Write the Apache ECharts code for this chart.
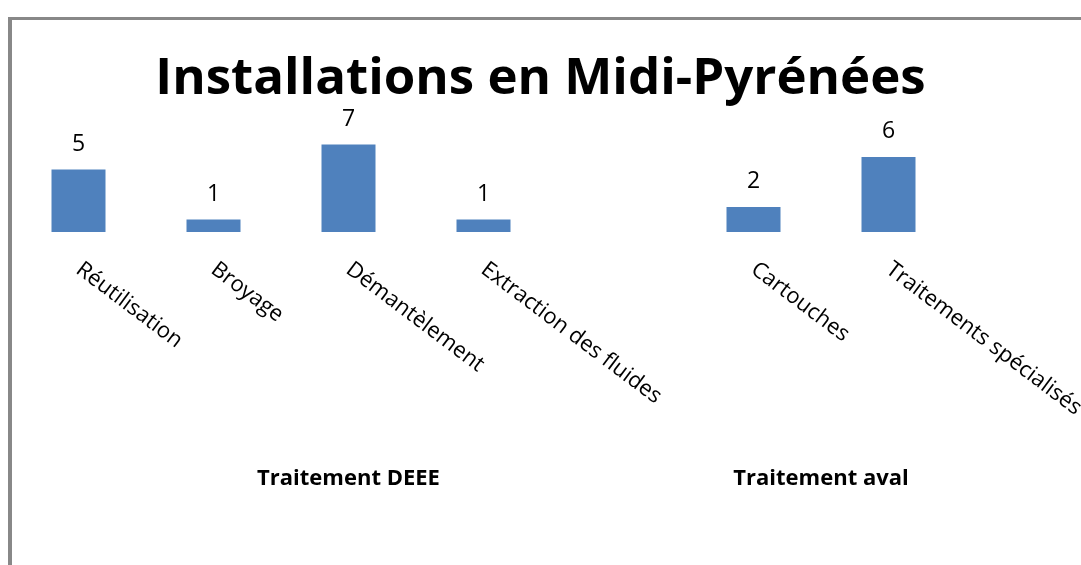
<!DOCTYPE html>
<html>
<head>
<meta charset="utf-8">
<script src="https://cdn.jsdelivr.net/npm/echarts@6/dist/echarts.min.js"></script>
<style>
  html, body { margin: 0; padding: 0; background: #ffffff; }
  #frame { position: absolute; left: 8px; top: 17px; right: -10px; bottom: -10px;
           border-left: 4px solid #888888; border-top: 3px solid #888888; }
  #chart { position: absolute; left: 0; top: 0; width: 1081px; height: 565px; }
</style>
</head>
<body>
<div id="frame"></div>
<div id="chart"></div>
<script>
// Installations counted per treatment step (empty slot separates the two groups)
const categories = ['Réutilisation', 'Broyage', 'Démantèlement', 'Extraction des fluides', '', 'Cartouches', 'Traitements spécialisés'];
const installations = [5, 1, 7, 1, null, 2, 6];
// Group captions and the category index range each one spans
const groupNames = ['Traitement DEEE', 'Traitement aval'];
const groupStart = [0, 5];
const groupEnd = [4, 6];

const chart = echarts.init(document.getElementById('chart'), null, { renderer: 'canvas' });

const option = {
  backgroundColor: 'transparent',
  animation: false,
  title: {
    text: 'Installations en Midi-Pyrénées',
    left: 'center',
    top: 49,
    textStyle: { fontFamily: 'Open Sans', fontWeight: 'bold', fontSize: 51, color: '#000000' }
  },
  grid: { left: 11, right: 125, top: 132, bottom: 333, containLabel: false, outerBoundsMode: 'none' },
  xAxis: {
    type: 'category',
    data: categories,
    axisLine: { show: false },
    axisTick: { show: false },
    splitLine: { show: false },
    axisLabel: {
      interval: 0,
      rotate: -37,
      margin: 35,
      fontFamily: 'Open Sans',
      fontSize: 22,
      color: '#000000'
    }
  },
  yAxis: {
    type: 'value',
    min: 0,
    max: 8,
    show: false,
    splitLine: { show: false }
  },
  series: [{
    type: 'bar',
    data: installations,
    barWidth: '40%',
    itemStyle: { color: '#4F81BD' },
    label: {
      show: true,
      position: 'top',
      distance: 14,
      fontFamily: 'Open Sans',
      fontSize: 23,
      color: '#000000'
    }
  }]
};

chart.setOption(option);

// Place the group captions under the middle of the categories they span
const groupGraphics = groupNames.map(function (name, i) {
  const x0 = chart.convertToPixel({ xAxisIndex: 0 }, groupStart[i]);
  const x1 = chart.convertToPixel({ xAxisIndex: 0 }, groupEnd[i]);
  return {
    type: 'text',
    x: (x0 + x1) / 2,
    y: 479,
    style: {
      text: name,
      fontFamily: 'Open Sans',
      fontWeight: 'bold',
      fontSize: 22,
      fill: '#000000',
      align: 'center',
      verticalAlign: 'middle'
    }
  };
});
chart.setOption({ graphic: groupGraphics });
</script>
</body>
</html>
